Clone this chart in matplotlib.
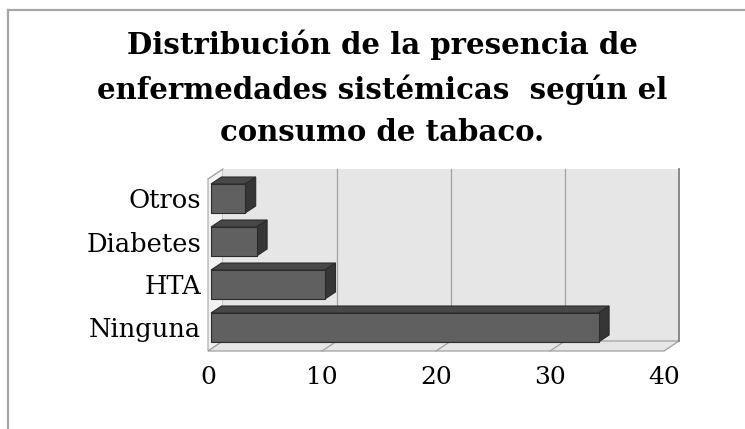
import matplotlib.pyplot as plt
from matplotlib.patches import Polygon
from matplotlib.lines import Line2D

# datos
categorias = ['Ninguna', 'HTA', 'Diabetes', 'Otros']
valores = [34, 10, 4, 3]
ticks_x = [0, 10, 20, 30, 40]
titulo = ('Distribución de la presencia de\n'
          'enfermedades sistémicas  según el\n'
          'consumo de tabaco.')

W, H = 745, 429
fig = plt.figure(figsize=(W / 100, H / 100), dpi=100)
fig.patch.set_facecolor('white')

# plano frontal del grafico en pixeles
left, right, bottom, top = 208, 664, 351, 179
ax = fig.add_axes([left / W, (H - bottom) / H, (right - left) / W, (bottom - top) / H])
ax.set_xlim(0, 40)
ax.set_ylim(-0.5, 3.5)
ax.patch.set_visible(False)
for s in ax.spines.values():
    s.set_visible(False)

# profundidad 3D (en unidades de datos): 15 px a la derecha, 10 px hacia arriba
px_x = (right - left) / 40.0
px_y = (bottom - top) / 4.0
SX = 15 / px_x
SY = 10 / px_y


def p(v, c, d):
    return (v + d * SX, c + d * SY)


def cara(pts, fc, ec, lw=0.8, z=1):
    ax.add_patch(Polygon(pts, closed=True, facecolor=fc, edgecolor=ec,
                         linewidth=lw, clip_on=False, zorder=z))


x0, x1 = ticks_x[0], ticks_x[-1]
y0, y1 = -0.5, 3.5

# pared izquierda, pared de fondo y suelo
cara([p(x0, y0, 0), p(x0, y1, 0), p(x0, y1, 1), p(x0, y0, 1)], '#f2f2f2', '#a6a6a6', 0.8)
cara([p(x0, y0, 1), p(x1, y0, 1), p(x1, y1, 1), p(x0, y1, 1)], '#e6e6e6', 'none', 0)
cara([p(x0, y0, 0), p(x1, y0, 0), p(x1, y0, 1), p(x0, y0, 1)], '#e6e6e6', '#a0a0a0', 0.9)

# lineas de division
for v in ticks_x[1:-1]:
    xs, ys = zip(p(v, y0, 1), p(v, y1, 1))
    ax.plot(xs, ys, color='#a0a0a0', lw=0.9, clip_on=False, zorder=1.5)
    xs, ys = zip(p(v, y0, 0), p(v, y0, 1))
    ax.plot(xs, ys, color='#a0a0a0', lw=0.9, clip_on=False, zorder=1.5)
xs, ys = zip(p(x1, y0, 1), p(x1, y1, 1))
ax.plot(xs, ys, color='#808080', lw=1.3, clip_on=False, zorder=1.5)
xs, ys = zip(p(x0, y1, 1), p(x0, y1, 0))
ax.plot(xs, ys, color='#a6a6a6', lw=0.8, clip_on=False, zorder=1.5)

# barras 3D
h = 0.337
d0, d1 = 0.2, 0.9
for i in range(len(categorias) - 1, -1, -1):
    v = valores[i]
    cara([p(0, i + h, d0), p(v, i + h, d0), p(v, i + h, d1), p(0, i + h, d1)],
         '#484848', '#2b2b2b', 0.8, 3)
    cara([p(v, i - h, d0), p(v, i + h, d0), p(v, i + h, d1), p(v, i - h, d1)],
         '#363636', '#2b2b2b', 0.8, 3)
    cara([p(0, i - h, d0), p(v, i - h, d0), p(v, i + h, d0), p(0, i + h, d0)],
         '#606060', '#2b2b2b', 0.8, 3)

# ejes
ax.set_xticks(ticks_x)
ax.set_xticklabels([str(t) for t in ticks_x], fontsize=18, family='DejaVu Serif')
ax.set_yticks([i + d0 * SY for i in range(len(categorias))])
ax.set_yticklabels(categorias, fontsize=18.5, family='DejaVu Serif')
ax.tick_params(axis='x', length=0, pad=11)
ax.tick_params(axis='y', length=0, pad=5)

# titulo
fig.text(382 / W, 1 - 30 / H, titulo, ha='center', va='top', fontsize=21,
         fontweight='bold', family='DejaVu Serif', linespacing=1.56)

# marco del area del grafico
fig.add_artist(Line2D([8 / W, 1], [1 - 10 / H, 1 - 10 / H], color='#a6a6a6', lw=1.6))
fig.add_artist(Line2D([8 / W, 8 / W], [0, 1 - 10 / H], color='#a6a6a6', lw=1.6))

fig.savefig('out.png', dpi=100)
